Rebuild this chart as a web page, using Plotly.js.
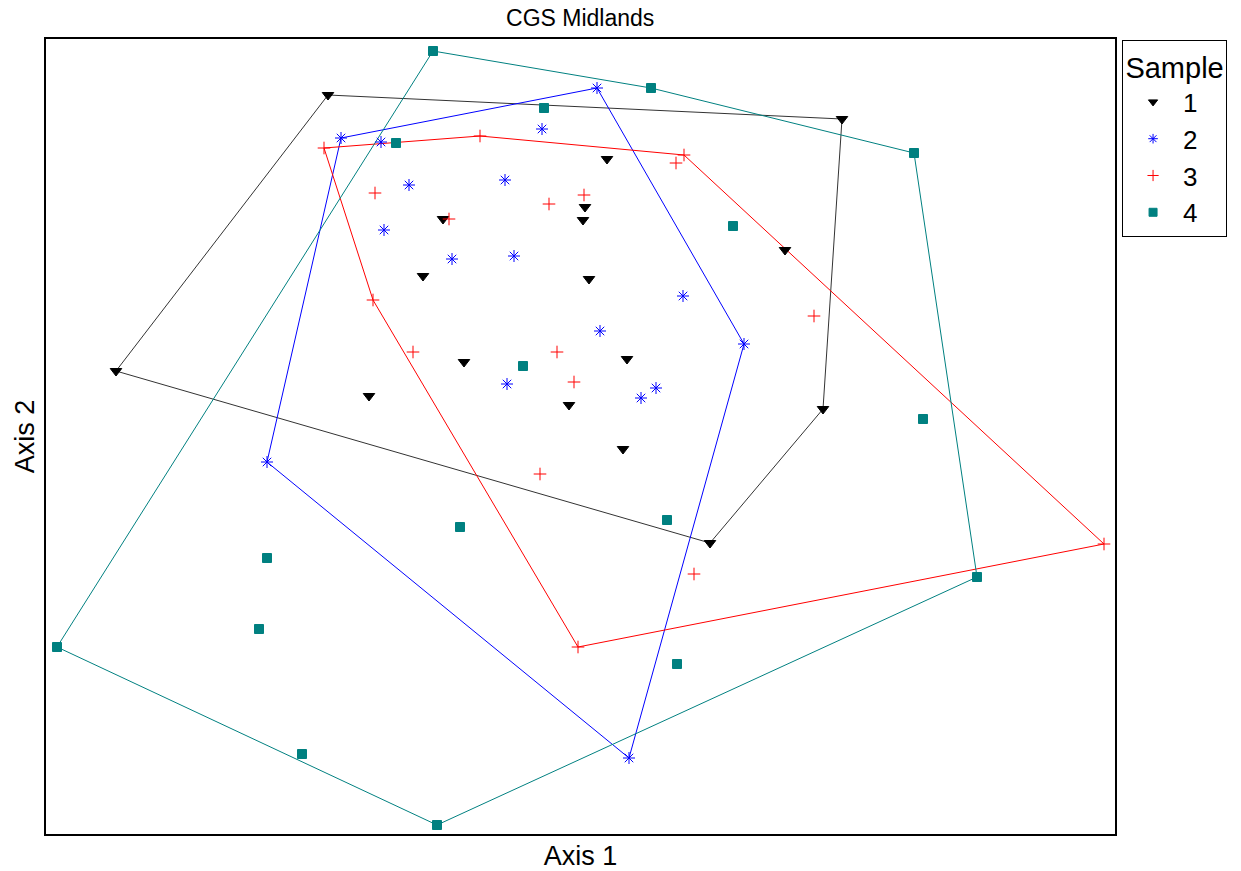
<!DOCTYPE html>
<html>
<head>
<meta charset="utf-8">
<script src="https://cdn.plot.ly/plotly-3.0.1.min.js"></script>
<style>html,body{margin:0;padding:0;background:#fff;}#chart{width:1241px;height:871px;}</style>
</head>
<body>
<div id="chart"></div>
<script>
// Ordination scores (arbitrary units)
var samples = ["1", "2", "3", "4"];
var colors = ["#000000", "#0000ff", "#ff0000", "#008080"];
var lineColors = ["#333333", "#0000ff", "#ff0000", "#008080"];
var symbols = ["triangle-down", "asterisk-open", "cross-thin-open", "square"];

// Convex hull vertices, in drawing order
var s1HullX = [-252, 262, 243, 130, -464];
var s1HullY = [345, 321, 31, -103, 69];
var s2HullX = [-239, 17, 164, 49, -313];
var s2HullY = [302, 352, 96, -318, -22];
var s3HullX = [-256, -100, 104, 524, -2, -207];
var s3HullY = [292, 304, 285, -104, -207, 140];
var s4HullX = [-147, 71, 334, 397, -143, -523];
var s4HullY = [389, 352, 287, -137, -385, -207];

// Interior points
var s1X = [27, 5, 3, -137, -157, 9, 205, -211, -116, 47, -11, 43];
var s1Y = [281, 233, 220, 221, 164, 161, 190, 44, 78, 81, 35, -9];
var s2X = [-199, -38, -171, -75, -196, -128, -66, 103, 20, -73, 76, 61];
var s2Y = [298, 311, 255, 260, 210, 181, 184, 144, 109, 56, 52, 42];
var s3X = [96, -205, 4, -31, -131, 234, -167, -23, -6, -40, 114];
var s3Y = [277, 247, 245, 236, 221, 124, 88, 88, 58, -34, -134];
var s4X = [-36, -184, 153, -57, 343, -120, 87, -313, -321, -278, 97];
var s4Y = [332, 297, 214, 74, 21, -87, -80, -118, -189, -314, -224];

var hullsX = [s1HullX, s2HullX, s3HullX, s4HullX];
var hullsY = [s1HullY, s2HullY, s3HullY, s4HullY];
var ptsX = [s1X, s2X, s3X, s4X];
var ptsY = [s1Y, s2Y, s3Y, s4Y];
var markerSizes = [10, 10, 9, 9];
var legendSizes = [8, 8, 8, 8];

var traces = [];
for (var i = 0; i < 4; i++) {
  traces.push({
    x: hullsX[i].concat([hullsX[i][0]]),
    y: hullsY[i].concat([hullsY[i][0]]),
    mode: "lines", type: "scatter", showlegend: false, hoverinfo: "skip",
    line: {color: lineColors[i], width: 1}
  });
}
for (var i = 0; i < 4; i++) {
  traces.push({
    x: hullsX[i].concat(ptsX[i]),
    y: hullsY[i].concat(ptsY[i]),
    mode: "markers", type: "scatter", showlegend: false,
    marker: {symbol: symbols[i], color: colors[i], size: markerSizes[i],
             line: {color: colors[i], width: 1}}
  });
}
for (var i = 0; i < 4; i++) {
  traces.push({
    x: [null], y: [null], name: samples[i],
    mode: "markers", type: "scatter", showlegend: true,
    marker: {symbol: symbols[i], color: colors[i], size: legendSizes[i],
             line: {color: colors[i], width: 1}}
  });
}

var layout = {
  width: 1241, height: 871,
  margin: {l: 46, r: 126, t: 39, b: 37},
  paper_bgcolor: "#ffffff", plot_bgcolor: "#ffffff",
  font: {family: "Liberation Sans, Arial, sans-serif", color: "#000"},
  title: {text: "CGS Midlands", x: 0.4675, xanchor: "center", y: 0.979, yanchor: "middle",
          font: {size: 23, color: "#000"}},
  xaxis: {range: [-534, 535], showticklabels: false, ticks: "", showgrid: false, zeroline: false,
          showline: true, mirror: true, linecolor: "#000", linewidth: 2,
          title: {text: "Axis 1", font: {size: 27}, standoff: 12}},
  yaxis: {range: [-394, 401], showticklabels: false, ticks: "", showgrid: false, zeroline: false,
          showline: true, mirror: true, linecolor: "#000", linewidth: 2,
          title: {text: "Axis 2", font: {size: 27}, standoff: 2}},
  showlegend: true,
  legend: {x: 1.0066, xanchor: "left", y: 0.999, yanchor: "top",
           bgcolor: "#fff", bordercolor: "#000", borderwidth: 1,
           font: {size: 26, color: "#000"},
           title: {text: "Sample", side: "top center", font: {size: 29}},
           traceorder: "normal", itemwidth: 50}
};

Plotly.newPlot("chart", traces, layout, {displayModeBar: false, staticPlot: true});
</script>
</body>
</html>
